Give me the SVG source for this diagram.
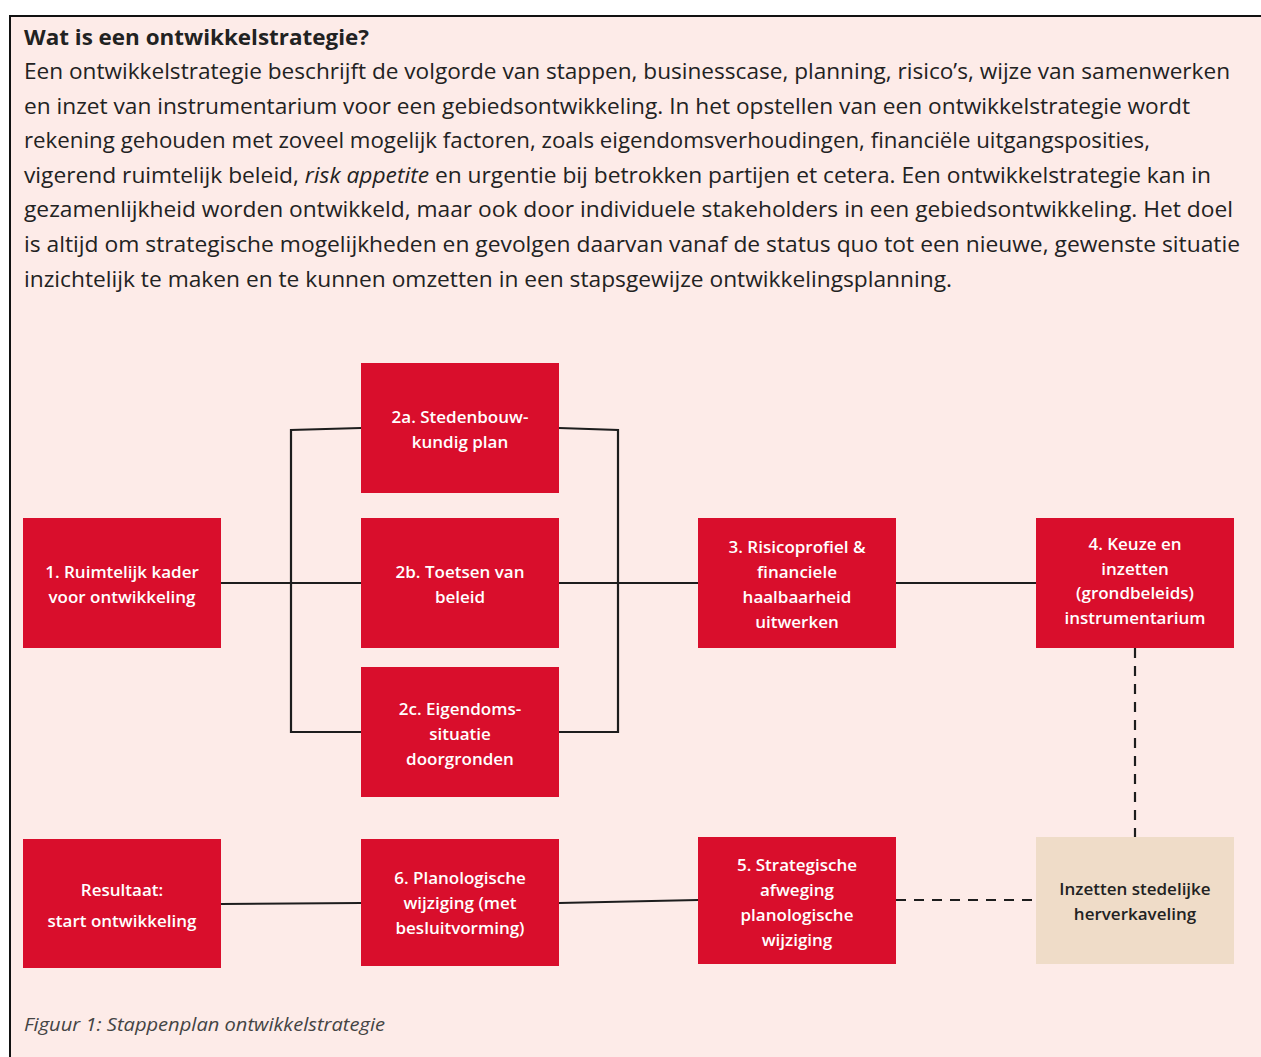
<svg xmlns="http://www.w3.org/2000/svg" width="1261" height="1057" viewBox="0 0 1261 1057">
  <defs>
    <style>
      .panel { fill: #fdebe8; }
      .edge { fill: none; stroke: #111; stroke-width: 2; }
      .body { font-family: "Open Sans", "Noto Sans", sans-serif; font-size: 21px; fill: #222; }
      .title { font-family: "Open Sans", "Noto Sans", sans-serif; font-size: 21px; font-weight: 700; fill: #222; }
      .caption { font-family: "Open Sans", "Noto Sans", sans-serif; font-size: 19px; font-style: italic; fill: #444; }
      .step { fill: #d90e2c; }
      .alt { fill: #efdcc8; }
      .lbl { font-family: "Open Sans", "Noto Sans", sans-serif; font-size: 17px; font-weight: 600; fill: #fff; text-anchor: middle; }
      .lbl-dark { font-family: "Open Sans", "Noto Sans", sans-serif; font-size: 17px; font-weight: 600; fill: #222; text-anchor: middle; }
      .link { fill: none; stroke: #1d1d1d; stroke-width: 2.2; }
      .dash { fill: none; stroke: #1d1d1d; stroke-width: 2.2; stroke-dasharray: 10 8; }
    </style>
  </defs>

  <!-- page background and text frame (open on the right and bottom) -->
  <rect x="0" y="0" width="1261" height="1057" fill="#ffffff"/>
  <rect x="10" y="16" width="1251" height="1041" class="panel"/>
  <path class="edge" d="M10,1057 L10,16 L1261,16"/>

  <!-- introduction text -->
  <g id="intro">
    <text class="title" x="24" y="45" textLength="345" lengthAdjust="spacingAndGlyphs">Wat is een ontwikkelstrategie?</text>
    <text class="body" x="24" y="79" textLength="1206" lengthAdjust="spacingAndGlyphs">Een ontwikkelstrategie beschrijft de volgorde van stappen, businesscase, planning, risico’s, wijze van samenwerken</text>
    <text class="body" x="24" y="114" textLength="1166" lengthAdjust="spacingAndGlyphs">en inzet van instrumentarium voor een gebiedsontwikkeling. In het opstellen van een ontwikkelstrategie wordt</text>
    <text class="body" x="24" y="148" textLength="1126" lengthAdjust="spacingAndGlyphs">rekening gehouden met zoveel mogelijk factoren, zoals eigendomsverhoudingen, financiële uitgangsposities,</text>
    <text class="body" x="24" y="183" textLength="1187" lengthAdjust="spacingAndGlyphs">vigerend ruimtelijk beleid, <tspan font-style="italic">risk appetite</tspan> en urgentie bij betrokken partijen et cetera. Een ontwikkelstrategie kan in</text>
    <text class="body" x="24" y="217" textLength="1209" lengthAdjust="spacingAndGlyphs">gezamenlijkheid worden ontwikkeld, maar ook door individuele stakeholders in een gebiedsontwikkeling. Het doel</text>
    <text class="body" x="24" y="252" textLength="1216" lengthAdjust="spacingAndGlyphs">is altijd om strategische mogelijkheden en gevolgen daarvan vanaf de status quo tot een nieuwe, gewenste situatie</text>
    <text class="body" x="24" y="287" textLength="928" lengthAdjust="spacingAndGlyphs">inzichtelijk te maken en te kunnen omzetten in een stapsgewijze ontwikkelingsplanning.</text>
  </g>

  <!-- connectors -->
  <g id="connectors">
    <line class="link" x1="221" y1="583" x2="361" y2="583"/>
    <path class="link" d="M361,428 L291,430 L291,732 L361,732"/>
    <path class="link" d="M559,428 L618,430 L618,732 L559,732"/>
    <line class="link" x1="559" y1="583" x2="698" y2="583"/>
    <line class="link" x1="896" y1="583" x2="1036" y2="583"/>
    <line class="dash" x1="1135" y1="648" x2="1135" y2="837"/>
    <line class="dash" x1="896" y1="900" x2="1036" y2="900"/>
    <line class="link" x1="698" y1="900" x2="559" y2="903"/>
    <line class="link" x1="361" y1="903" x2="221" y2="904"/>
  </g>

  <!-- steps -->
  <g id="step1">
    <rect class="step" x="23" y="518" width="198" height="130"/>
    <text class="lbl" x="122" y="578">1. Ruimtelijk kader</text>
    <text class="lbl" x="122" y="603">voor ontwikkeling</text>
  </g>

  <g id="step2a">
    <rect class="step" x="361" y="363" width="198" height="130"/>
    <text class="lbl" x="460" y="423">2a. Stedenbouw-</text>
    <text class="lbl" x="460" y="448">kundig plan</text>
  </g>

  <g id="step2b">
    <rect class="step" x="361" y="518" width="198" height="130"/>
    <text class="lbl" x="460" y="578">2b. Toetsen van</text>
    <text class="lbl" x="460" y="603">beleid</text>
  </g>

  <g id="step2c">
    <rect class="step" x="361" y="667" width="198" height="130"/>
    <text class="lbl" x="460" y="715">2c. Eigendoms-</text>
    <text class="lbl" x="460" y="740">situatie</text>
    <text class="lbl" x="460" y="765">doorgronden</text>
  </g>

  <g id="step3">
    <rect class="step" x="698" y="518" width="198" height="130"/>
    <text class="lbl" x="797" y="553">3. Risicoprofiel &amp;</text>
    <text class="lbl" x="797" y="578">financiele</text>
    <text class="lbl" x="797" y="603">haalbaarheid</text>
    <text class="lbl" x="797" y="628">uitwerken</text>
  </g>

  <g id="step4">
    <rect class="step" x="1036" y="518" width="198" height="130"/>
    <text class="lbl" x="1135" y="550">4. Keuze en</text>
    <text class="lbl" x="1135" y="575">inzetten</text>
    <text class="lbl" x="1135" y="599">(grondbeleids)</text>
    <text class="lbl" x="1135" y="624">instrumentarium</text>
  </g>

  <g id="herverkaveling">
    <rect class="alt" x="1036" y="837" width="198" height="127"/>
    <text class="lbl-dark" x="1135" y="895">Inzetten stedelijke</text>
    <text class="lbl-dark" x="1135" y="920">herverkaveling</text>
  </g>

  <g id="step5">
    <rect class="step" x="698" y="837" width="198" height="127"/>
    <text class="lbl" x="797" y="871">5. Strategische</text>
    <text class="lbl" x="797" y="896">afweging</text>
    <text class="lbl" x="797" y="921">planologische</text>
    <text class="lbl" x="797" y="946">wijziging</text>
  </g>

  <g id="step6">
    <rect class="step" x="361" y="839" width="198" height="127"/>
    <text class="lbl" x="460" y="884">6. Planologische</text>
    <text class="lbl" x="460" y="909">wijziging (met</text>
    <text class="lbl" x="460" y="934">besluitvorming)</text>
  </g>

  <g id="result">
    <rect class="step" x="23" y="839" width="198" height="129"/>
    <text class="lbl" x="122" y="896">Resultaat:</text>
    <text class="lbl" x="122" y="927">start ontwikkeling</text>
  </g>

  <!-- figure caption -->
  <text class="caption" x="24" y="1031" textLength="361" lengthAdjust="spacingAndGlyphs">Figuur 1: Stappenplan ontwikkelstrategie</text>
</svg>
